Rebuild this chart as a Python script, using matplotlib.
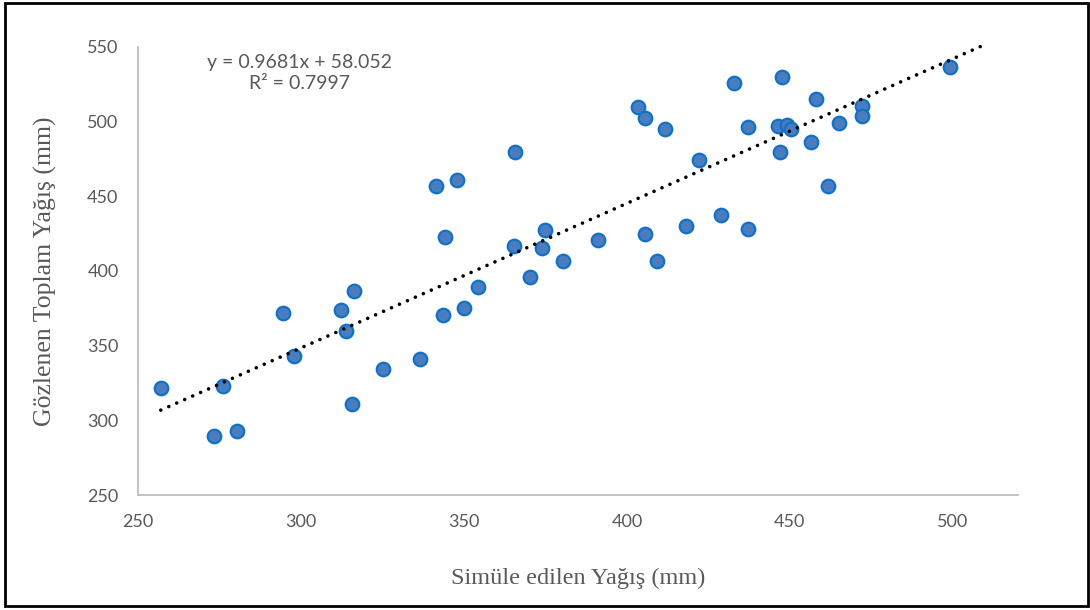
import matplotlib.pyplot as plt
from matplotlib.patches import Rectangle

# simüle edilen / gözlenen toplam yağış (mm)
sim = [257.0, 273.2, 276.0, 280.3, 294.6, 298.0, 312.3, 313.9, 315.7, 316.3,
       325.2, 336.5, 341.4, 343.5, 344.1, 347.8, 349.9, 354.2, 365.8, 365.5,
       370.4, 374.1, 375.0, 380.5, 391.2, 403.4, 405.6, 405.6, 409.2, 411.7,
       418.1, 422.1, 428.8, 432.8, 437.0, 437.3, 446.5, 447.1, 447.7, 449.2,
       450.4, 456.6, 458.1, 461.8, 465.2, 472.2, 472.2, 499.1]
obs = [321.5, 289.4, 322.8, 292.8, 372.2, 342.9, 373.6, 359.6, 310.8, 386.3,
       334.2, 340.8, 457.1, 370.2, 423.0, 461.1, 374.9, 389.6, 479.8, 417.0,
       396.3, 415.7, 427.7, 407.0, 421.0, 509.9, 502.5, 425.0, 407.0, 495.2,
       430.3, 474.4, 437.6, 525.9, 496.5, 428.4, 497.2, 479.8, 529.9, 497.8,
       495.2, 486.5, 515.2, 457.1, 499.2, 510.5, 503.8, 536.6]

slope = 0.9681
intercept = 58.052
r2 = 0.7997
forecast = 9.5  # trend çizgisi son noktanın biraz ötesine uzanıyor

xticks = [250, 300, 350, 400, 450, 500]
yticks = [250, 300, 350, 400, 450, 500, 550]

gray = '#595959'

fig = plt.figure(figsize=(10.9, 6.1), dpi=100)
ax = fig.add_axes([0.1266, 0.1885, 0.8074, 0.7345])

ax.scatter(sim, obs, s=95, color='#4A7DC0', edgecolors='#1271C6',
           linewidths=1.6, zorder=3)

x0 = min(sim)
x1 = max(sim) + forecast
ax.plot([x0, x1], [slope * x0 + intercept, slope * x1 + intercept],
        color='black', lw=2.6, linestyle=(0, (0.01, 2.4)),
        dash_capstyle='round', clip_on=False, zorder=4)

ax.set_xlim(250, 520)
ax.set_ylim(250, 550)
ax.set_xticks(xticks)
ax.set_yticks(yticks)
ax.tick_params(length=0, labelsize=13, labelcolor=gray, pad=14)
for lbl in ax.get_xticklabels() + ax.get_yticklabels():
    lbl.set_family('Lato')

for s in ['top', 'right']:
    ax.spines[s].set_visible(False)
for s in ['left', 'bottom']:
    ax.spines[s].set_color('#BFBFBF')
    ax.spines[s].set_linewidth(1.3)

ax.set_xlabel('Simüle edilen Yağış (mm)', family='Liberation Serif',
              fontsize=17.5, color=gray, labelpad=27)
ax.set_ylabel('Gözlenen Toplam Yağış (mm)', family='Liberation Serif',
              fontsize=18.5, color=gray, labelpad=22)

ax.text(0.183, 0.942, f'y = {slope}x + {intercept}\nR² = {r2}',
        transform=ax.transAxes, ha='center', va='center', family='Lato',
        fontsize=14, color=gray, linespacing=1.35)

# dış çerçeve
fig.patches.append(Rectangle((0.005, 0.006), 0.993, 0.989, transform=fig.transFigure,
                             fill=False, edgecolor='black', lw=2))

fig.savefig('out.png', dpi=100)
